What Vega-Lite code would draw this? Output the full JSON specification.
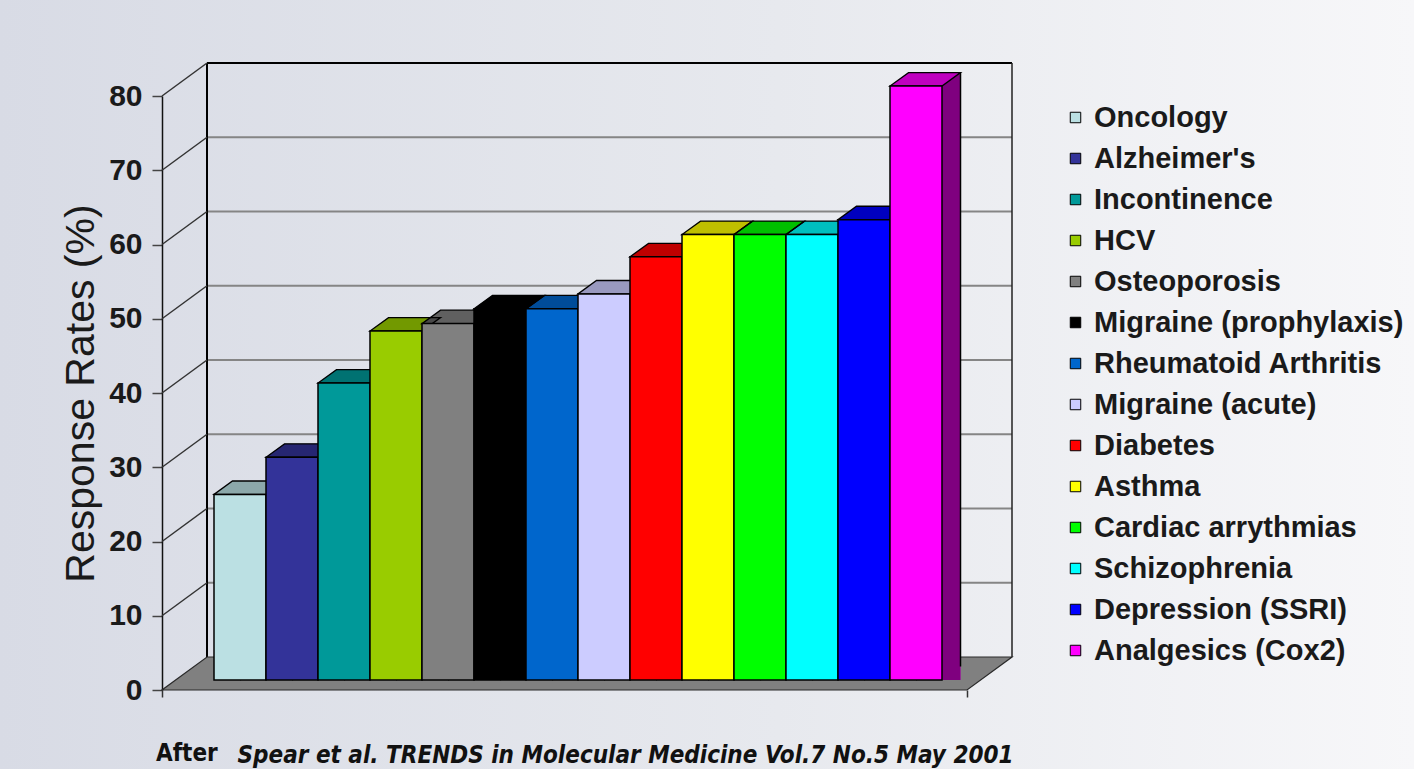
{
  "$schema": "https://vega.github.io/schema/vega-lite/v6.json",
  "width": 1414,
  "height": 769,
  "padding": 0,
  "autosize": {"type": "none"},
  "background": "#e9eaef",
  "config": {
    "font": "Liberation Sans",
    "view": {
      "stroke": null,
      "fill": {
        "gradient": "linear", "x1": 0, "y1": 0, "x2": 1, "y2": 0,
        "stops": [
          {"offset": 0, "color": "#d8dbe5"},
          {"offset": 0.55, "color": "#e7e9ee"},
          {"offset": 1, "color": "#f7f7f9"}
        ]
      }
    }
  },
  "title": {
    "text": "After",
    "anchor": "start",
    "frame": "group",
    "orient": "top",
    "offset": 0,
    "dx": 156,
    "dy": 785,
    "baseline": "alphabetic",
    "font": "DejaVu Sans Condensed, DejaVu Sans",
    "fontSize": 24,
    "fontWeight": "bold",
    "color": "#111111"
  },
  "datasets": {
    "rates": [
      {"area": "Oncology", "rate": 25},
      {"area": "Alzheimer's", "rate": 30},
      {"area": "Incontinence", "rate": 40},
      {"area": "HCV", "rate": 47},
      {"area": "Osteoporosis", "rate": 48},
      {"area": "Migraine (prophylaxis)", "rate": 50},
      {"area": "Rheumatoid Arthritis", "rate": 50},
      {"area": "Migraine (acute)", "rate": 52},
      {"area": "Diabetes", "rate": 57},
      {"area": "Asthma", "rate": 60},
      {"area": "Cardiac arrythmias", "rate": 60},
      {"area": "Schizophrenia", "rate": 60},
      {"area": "Depression (SSRI)", "rate": 62},
      {"area": "Analgesics (Cox2)", "rate": 80}
    ],
    "levels": [
      {"v": 0}, {"v": 10}, {"v": 20}, {"v": 30}, {"v": 40},
      {"v": 50}, {"v": 60}, {"v": 70}, {"v": 80}
    ]
  },
  "resolve": {"scale": {"x": "independent"}},
  "layer": [
    {
      "data": {"name": "levels"},
      "transform": [{"filter": "datum.v > 0 && datum.v < 80"}],
      "mark": {"type": "rule", "xOffset": 45, "x2Offset": 45, "yOffset": -33, "stroke": "#858585", "strokeWidth": 2},
      "encoding": {
        "x": {"datum": 0, "type": "quantitative", "scale": {"domain": [0, 1], "range": [162, 967]}, "axis": null},
        "x2": {"datum": 1},
        "y": {
          "field": "v", "type": "quantitative",
          "scale": {"domain": [0, 80], "range": [690, 96], "nice": false, "zero": false},
          "axis": {
            "offset": -162,
            "values": [0, 10, 20, 30, 40, 50, 60, 70, 80],
            "grid": false,
            "labelFontSize": 30,
            "labelFontWeight": "bold",
            "labelColor": "#1a1a1a",
            "labelPadding": 10,
            "tickSize": 10,
            "tickColor": "#444444",
            "tickWidth": 1.5,
            "domainColor": "#111111",
            "domainWidth": 1.5,
            "title": "Response Rates (%)",
            "titleFontSize": 41,
            "titleFontWeight": "normal",
            "titleColor": "#1a1a1a",
            "titlePadding": 6
          }
        }
      }
    },
    {
      "data": {"values": [{}]},
      "mark": {"type": "rule", "xOffset": 45, "x2Offset": 45, "yOffset": -33, "stroke": "#000000", "strokeWidth": 2},
      "encoding": {
        "x": {"datum": 0, "type": "quantitative", "scale": {"domain": [0, 1], "range": [162, 967]}, "axis": null},
        "x2": {"datum": 1},
        "y": {"datum": 80, "type": "quantitative"}
      }
    },
    {
      "data": {"values": [{}]},
      "mark": {"type": "rule", "xOffset": 45, "yOffset": -33, "y2Offset": -33, "stroke": "#000000", "strokeWidth": 2},
      "encoding": {
        "x": {"datum": 0, "type": "quantitative", "scale": {"domain": [0, 1], "range": [162, 967]}, "axis": null},
        "y": {"datum": 0, "type": "quantitative"},
        "y2": {"datum": 80}
      }
    },
    {
      "data": {"values": [{}]},
      "mark": {"type": "rule", "xOffset": 45, "yOffset": -33, "y2Offset": -33, "stroke": "#222222", "strokeWidth": 1.5},
      "encoding": {
        "x": {"datum": 1, "type": "quantitative", "scale": {"domain": [0, 1], "range": [162, 967]}, "axis": null},
        "y": {"datum": 0, "type": "quantitative"},
        "y2": {"datum": 80}
      }
    },
    {
      "data": {"name": "levels"},
      "transform": [{"filter": "datum.v > 0"}],
      "mark": {"type": "rule", "x2Offset": 45, "y2Offset": -33, "stroke": "#333333", "strokeWidth": 1.5},
      "encoding": {
        "x": {"datum": 0, "type": "quantitative", "scale": {"domain": [0, 1], "range": [162, 967]}, "axis": null},
        "x2": {"datum": 0},
        "y": {"field": "v", "type": "quantitative"},
        "y2": {"field": "v"}
      }
    },
    {
      "data": {"values": [{}]},
      "mark": {
        "type": "point", "filled": true, "opacity": 1, "size": 4,
        "shape": "M0,0L805,0L850,-33L45,-33Z",
        "fill": "#808080", "stroke": "#2a2a2a", "strokeWidth": 1.2
      },
      "encoding": {
        "x": {
          "datum": 0, "type": "quantitative", "scale": {"domain": [0, 1], "range": [162, 967]},
          "axis": {"orient": "bottom", "offset": -79, "values": [0, 1], "labels": false, "domain": false, "grid": false, "tickSize": 7, "tickColor": "#333333", "tickWidth": 1.5, "title": null}
        },
        "y": {"datum": 0, "type": "quantitative"}
      }
    },
    {
      "data": {"name": "rates"},
      "mark": {"type": "bar", "width": 18.5, "xOffset": 35.25, "yOffset": -23.4, "y2Offset": -10},
      "encoding": {
        "x": {"field": "area", "type": "nominal", "scale": {"domain": ["Oncology", "Alzheimer's", "Incontinence", "HCV", "Osteoporosis", "Migraine (prophylaxis)", "Rheumatoid Arthritis", "Migraine (acute)", "Diabetes", "Asthma", "Cardiac arrythmias", "Schizophrenia", "Depression (SSRI)", "Analgesics (Cox2)"], "range": [214, 942], "paddingInner": 0, "paddingOuter": 0}, "axis": null},
        "y": {"field": "rate", "type": "quantitative"},
        "y2": {"datum": 0},
        "color": {"field": "area", "type": "nominal", "scale": {"domain": ["Oncology", "Alzheimer's", "Incontinence", "HCV", "Osteoporosis", "Migraine (prophylaxis)", "Rheumatoid Arthritis", "Migraine (acute)", "Diabetes", "Asthma", "Cardiac arrythmias", "Schizophrenia", "Depression (SSRI)", "Analgesics (Cox2)"], "range": ["#BBE0E3", "#333399", "#009999", "#99CC00", "#808080", "#000000", "#0066CC", "#CCCCFF", "#FF0000", "#FFFF00", "#00FF00", "#00FFFF", "#0000FF", "#FF00FF"]}}
      }
    },
    {
      "data": {"name": "rates"},
      "mark": {"type": "bar", "width": 18.5, "xOffset": 35.25, "yOffset": -23.4, "y2Offset": -10, "fill": "#000000", "fillOpacity": 0.5},
      "encoding": {
        "x": {"field": "area", "type": "nominal", "scale": {"domain": ["Oncology", "Alzheimer's", "Incontinence", "HCV", "Osteoporosis", "Migraine (prophylaxis)", "Rheumatoid Arthritis", "Migraine (acute)", "Diabetes", "Asthma", "Cardiac arrythmias", "Schizophrenia", "Depression (SSRI)", "Analgesics (Cox2)"], "range": [214, 942], "paddingInner": 0, "paddingOuter": 0}, "axis": null},
        "y": {"field": "rate", "type": "quantitative"},
        "y2": {"datum": 0}
      }
    },
    {
      "data": {"name": "rates"},
      "mark": {"type": "rule", "xOffset": 18.5, "yOffset": -23.4, "y2Offset": -23.4, "stroke": "#000000", "strokeWidth": 1.5},
      "encoding": {
        "x": {"field": "area", "type": "nominal", "bandPosition": 1, "scale": {"domain": ["Oncology", "Alzheimer's", "Incontinence", "HCV", "Osteoporosis", "Migraine (prophylaxis)", "Rheumatoid Arthritis", "Migraine (acute)", "Diabetes", "Asthma", "Cardiac arrythmias", "Schizophrenia", "Depression (SSRI)", "Analgesics (Cox2)"], "range": [214, 942], "paddingInner": 0, "paddingOuter": 0}, "axis": null},
        "y": {"field": "rate", "type": "quantitative"},
        "y2": {"datum": 0}
      }
    },
    {
      "data": {"name": "rates"},
      "mark": {"type": "point", "filled": true, "opacity": 1, "size": 4, "yOffset": -10, "shape": "M0,0.8L19.5,-13.4L19.5,0.8Z", "fill": "#808080", "strokeWidth": 0},
      "encoding": {
        "x": {"field": "area", "type": "nominal", "bandPosition": 1, "scale": {"domain": ["Oncology", "Alzheimer's", "Incontinence", "HCV", "Osteoporosis", "Migraine (prophylaxis)", "Rheumatoid Arthritis", "Migraine (acute)", "Diabetes", "Asthma", "Cardiac arrythmias", "Schizophrenia", "Depression (SSRI)", "Analgesics (Cox2)"], "range": [214, 942], "paddingInner": 0, "paddingOuter": 0}, "axis": null},
        "y": {"datum": 0, "type": "quantitative"}
      }
    },
    {
      "data": {"name": "rates"},
      "mark": {"type": "point", "filled": false, "opacity": 1, "size": 4, "yOffset": -10, "shape": "M0,0L18.5,-13.4", "stroke": "#000000", "strokeWidth": 1.5},
      "encoding": {
        "x": {"field": "area", "type": "nominal", "bandPosition": 1, "scale": {"domain": ["Oncology", "Alzheimer's", "Incontinence", "HCV", "Osteoporosis", "Migraine (prophylaxis)", "Rheumatoid Arthritis", "Migraine (acute)", "Diabetes", "Asthma", "Cardiac arrythmias", "Schizophrenia", "Depression (SSRI)", "Analgesics (Cox2)"], "range": [214, 942], "paddingInner": 0, "paddingOuter": 0}, "axis": null},
        "y": {"datum": 0, "type": "quantitative"}
      }
    },
    {
      "data": {"name": "rates"},
      "mark": {"type": "point", "filled": true, "opacity": 1, "size": 4, "yOffset": -10, "shape": "M-26,0L26,0L44.5,-13.4L-7.5,-13.4Z", "strokeWidth": 0},
      "encoding": {
        "x": {"field": "area", "type": "nominal", "scale": {"domain": ["Oncology", "Alzheimer's", "Incontinence", "HCV", "Osteoporosis", "Migraine (prophylaxis)", "Rheumatoid Arthritis", "Migraine (acute)", "Diabetes", "Asthma", "Cardiac arrythmias", "Schizophrenia", "Depression (SSRI)", "Analgesics (Cox2)"], "range": [214, 942], "paddingInner": 0, "paddingOuter": 0}, "axis": null},
        "y": {"field": "rate", "type": "quantitative"},
        "color": {"field": "area", "type": "nominal", "scale": {"domain": ["Oncology", "Alzheimer's", "Incontinence", "HCV", "Osteoporosis", "Migraine (prophylaxis)", "Rheumatoid Arthritis", "Migraine (acute)", "Diabetes", "Asthma", "Cardiac arrythmias", "Schizophrenia", "Depression (SSRI)", "Analgesics (Cox2)"], "range": ["#BBE0E3", "#333399", "#009999", "#99CC00", "#808080", "#000000", "#0066CC", "#CCCCFF", "#FF0000", "#FFFF00", "#00FF00", "#00FFFF", "#0000FF", "#FF00FF"]}}
      }
    },
    {
      "data": {"name": "rates"},
      "mark": {"type": "point", "filled": true, "opacity": 1, "size": 4, "yOffset": -10, "shape": "M-26,0L26,0L44.5,-13.4L-7.5,-13.4Z", "fill": "#000000", "fillOpacity": 0.25, "stroke": "#000000", "strokeWidth": 1.3, "strokeOpacity": 1},
      "encoding": {
        "x": {"field": "area", "type": "nominal", "scale": {"domain": ["Oncology", "Alzheimer's", "Incontinence", "HCV", "Osteoporosis", "Migraine (prophylaxis)", "Rheumatoid Arthritis", "Migraine (acute)", "Diabetes", "Asthma", "Cardiac arrythmias", "Schizophrenia", "Depression (SSRI)", "Analgesics (Cox2)"], "range": [214, 942], "paddingInner": 0, "paddingOuter": 0}, "axis": null},
        "y": {"field": "rate", "type": "quantitative"}
      }
    },
    {
      "data": {"name": "rates"},
      "mark": {"type": "bar", "yOffset": -10, "y2Offset": -10, "stroke": "#000000", "strokeWidth": 1.5},
      "encoding": {
        "x": {
          "field": "area", "type": "nominal",
          "scale": {"domain": ["Oncology", "Alzheimer's", "Incontinence", "HCV", "Osteoporosis", "Migraine (prophylaxis)", "Rheumatoid Arthritis", "Migraine (acute)", "Diabetes", "Asthma", "Cardiac arrythmias", "Schizophrenia", "Depression (SSRI)", "Analgesics (Cox2)"], "range": [214, 942], "paddingInner": 0, "paddingOuter": 0},
          "axis": {
            "orient": "bottom", "labels": false, "ticks": false, "domain": false, "grid": false,
            "title": "Spear et al. TRENDS in Molecular Medicine Vol.7 No.5 May 2001",
            "titleFont": "DejaVu Sans Condensed, DejaVu Sans",
            "titleFontStyle": "italic",
            "titleFontWeight": "bold",
            "titleFontSize": 24,
            "titleColor": "#111111",
            "titleX": 237,
            "titleY": -7,
            "titleAlign": "left",
            "titleAnchor": "start",
            "titleBaseline": "alphabetic"
          }
        },
        "y": {"field": "rate", "type": "quantitative"},
        "y2": {"datum": 0},
        "color": {
          "field": "area", "type": "nominal",
          "scale": {"domain": ["Oncology", "Alzheimer's", "Incontinence", "HCV", "Osteoporosis", "Migraine (prophylaxis)", "Rheumatoid Arthritis", "Migraine (acute)", "Diabetes", "Asthma", "Cardiac arrythmias", "Schizophrenia", "Depression (SSRI)", "Analgesics (Cox2)"], "range": ["#BBE0E3", "#333399", "#009999", "#99CC00", "#808080", "#000000", "#0066CC", "#CCCCFF", "#FF0000", "#FFFF00", "#00FF00", "#00FFFF", "#0000FF", "#FF00FF"]},
          "legend": {
            "title": null,
            "orient": "none",
            "legendX": 1061,
            "legendY": 103,
            "symbolType": "square",
            "symbolSize": 110,
            "symbolStrokeColor": "#000000",
            "symbolStrokeWidth": 1,
            "labelFontSize": 29,
            "labelFontWeight": "bold",
            "labelColor": "#1a1a1a",
            "labelOffset": 4,
            "labelLimit": 400,
            "rowPadding": 11
          }
        }
      }
    }
  ]
}
